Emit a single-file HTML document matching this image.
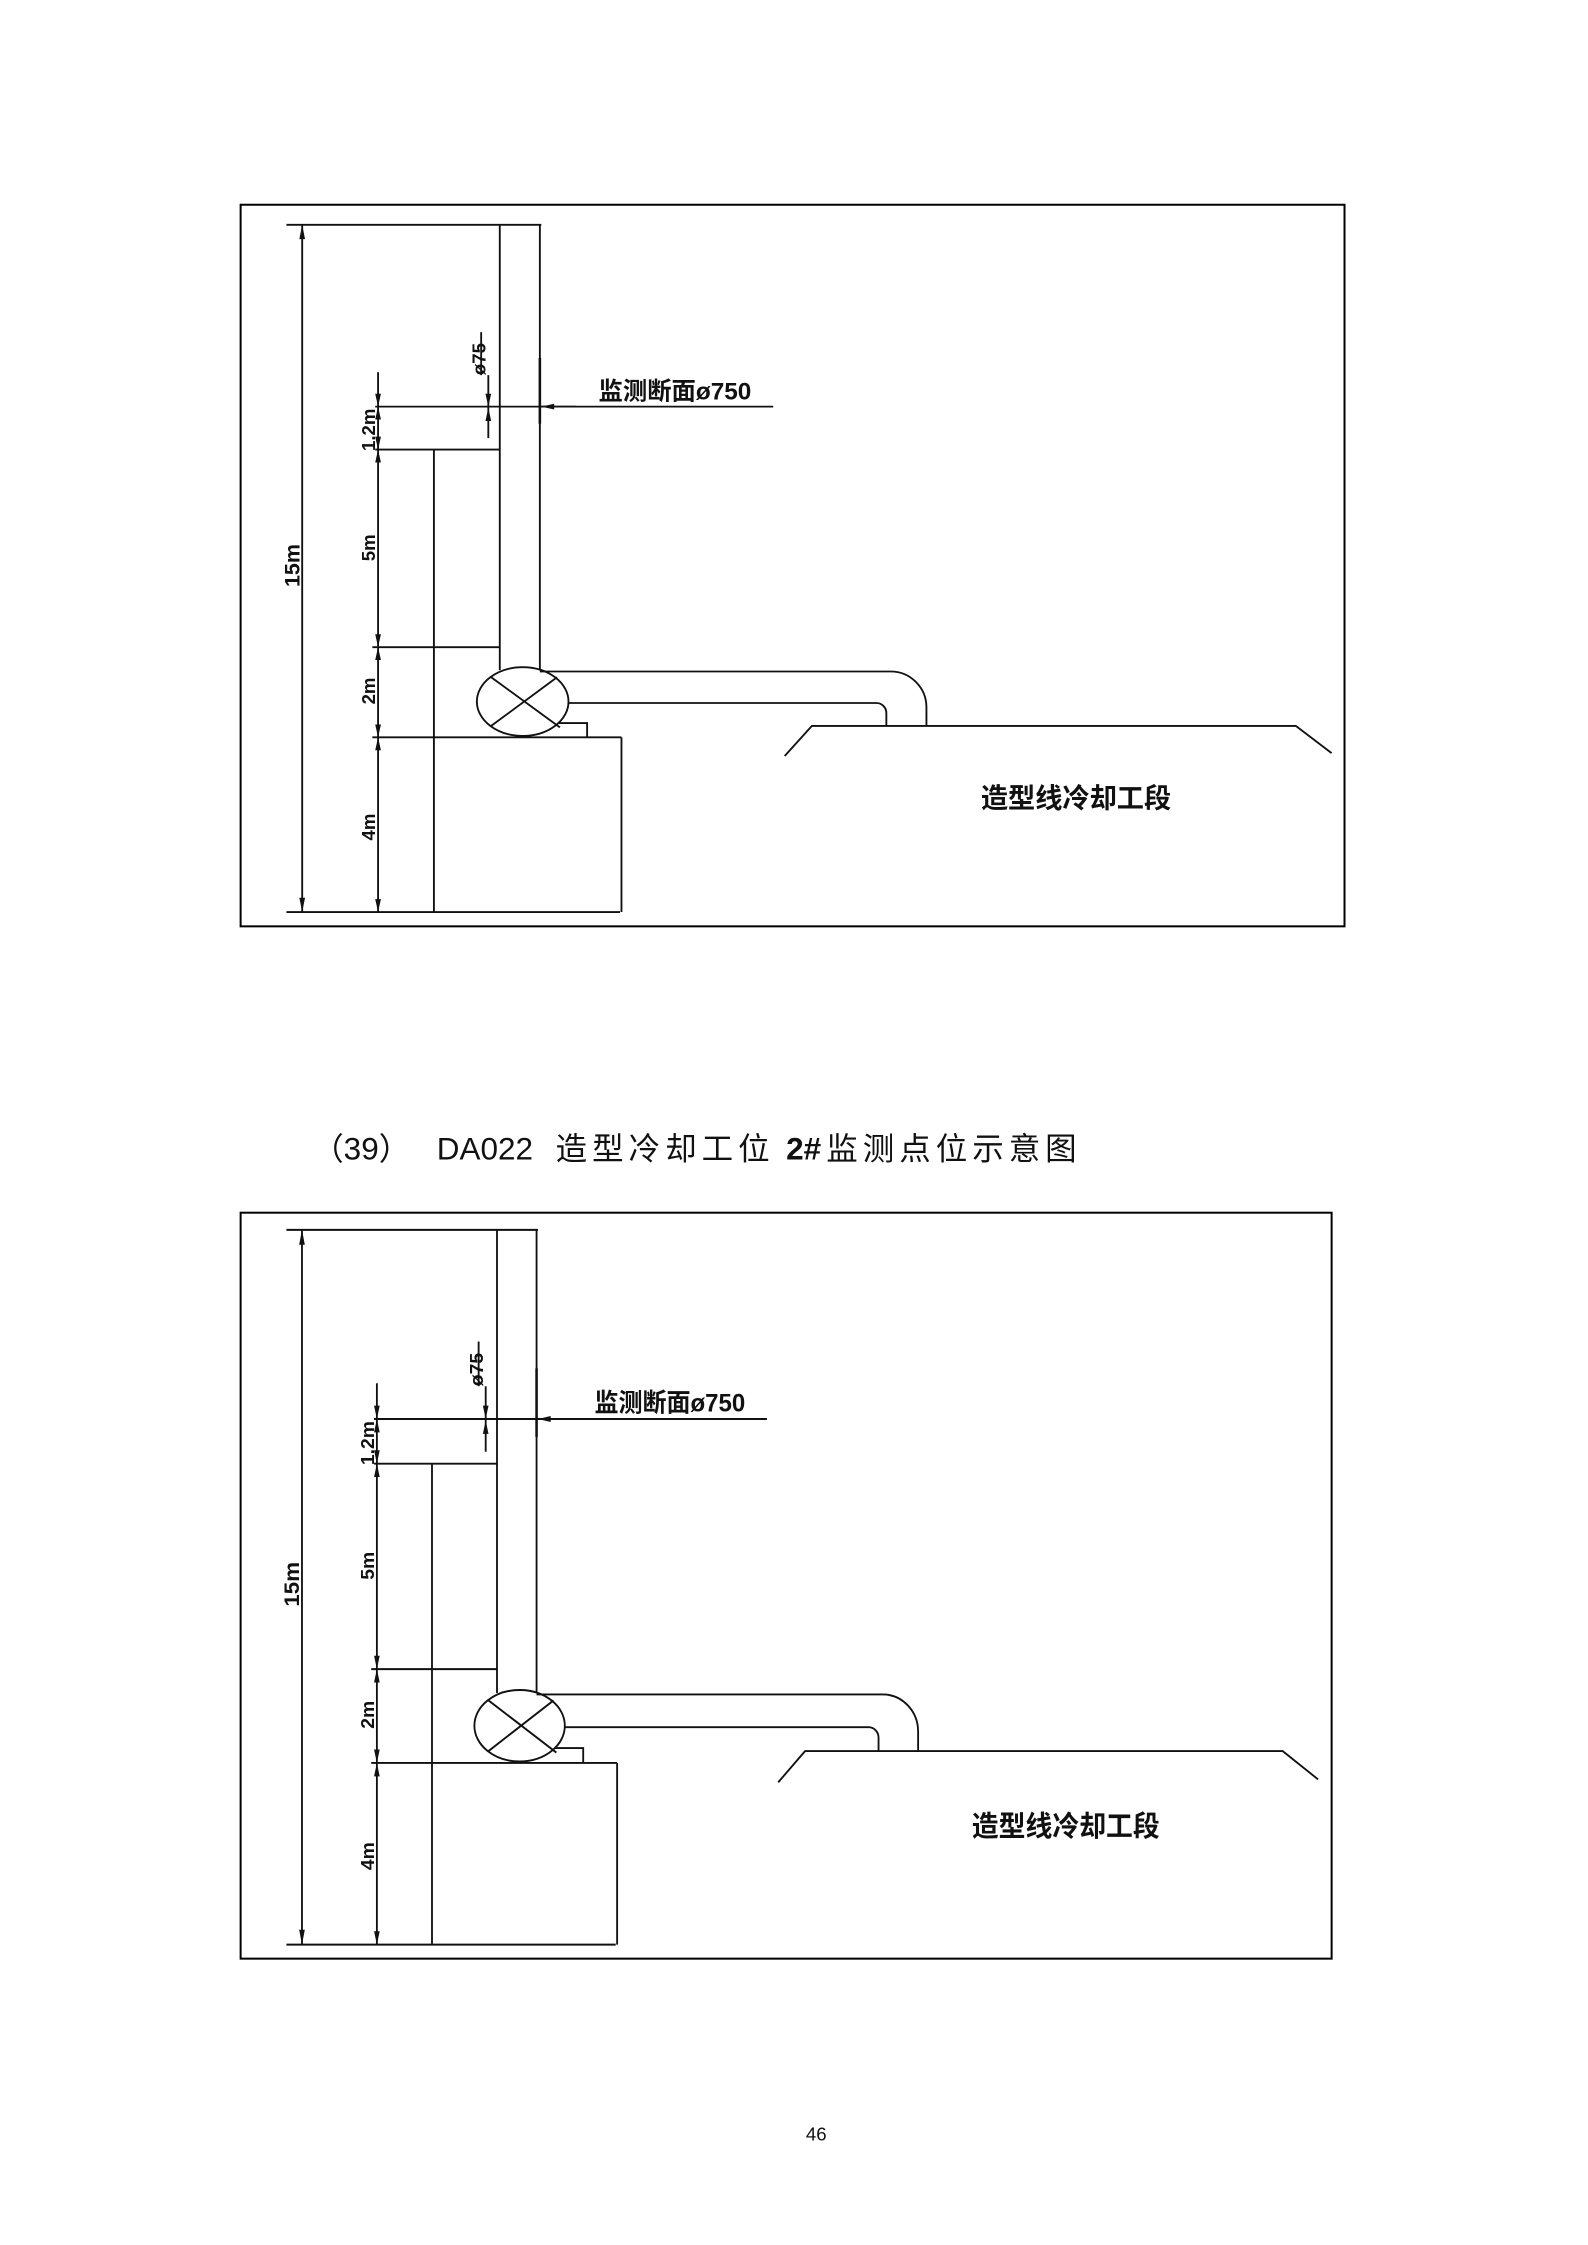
<!DOCTYPE html>
<html><head><meta charset="utf-8">
<style>
html,body{margin:0;padding:0;background:#fff;}
svg{display:block;}
</style></head>
<body>
<svg width="1588" height="2245" viewBox="0 0 1109 1568" xmlns="http://www.w3.org/2000/svg">
<defs>
<g id="dia" fill="none" stroke="#111" stroke-width="1.3">
  <line x1="200" y1="157" x2="378" y2="157"/>
  <line x1="200" y1="637" x2="433" y2="637"/>
  <line x1="211" y1="157" x2="211" y2="637"/>
  <line x1="349" y1="157" x2="349" y2="468"/>
  <line x1="377" y1="157" x2="377" y2="468"/>
  <line x1="377" y1="250" x2="377" y2="296" stroke-width="1.8"/>
  <line x1="264" y1="260" x2="264" y2="637"/>
  <line x1="262" y1="284" x2="540" y2="284"/>
  <line x1="262" y1="314" x2="349" y2="314"/>
  <line x1="260" y1="452" x2="349" y2="452"/>
  <line x1="260" y1="515" x2="434" y2="515"/>
  <line x1="303" y1="314" x2="303" y2="637"/>
  <line x1="434" y1="515" x2="434" y2="637"/>
  <line x1="341" y1="262" x2="341" y2="306"/>
  <line x1="336" y1="232" x2="336" y2="262"/>
  <line x1="377" y1="284" x2="402" y2="284"/>
  <ellipse cx="365" cy="490" rx="32" ry="24"/>
  <line x1="343" y1="473" x2="391" y2="508"/>
  <line x1="343" y1="507" x2="389" y2="473"/>
  <polyline points="390,505 410,505 410,515"/>
  <path d="M377 469 L622 469 A25 25 0 0 1 647 494 L647 507"/>
  <path d="M397 491 L612 491 A7 7 0 0 1 619 498 L619 507"/>
  <polyline points="548,528 567,507 905,507 930,526"/>
  <g fill="#111" stroke="none">
    <polygon points="209,167 213,167 211,157"/>
    <polygon points="209,627 213,627 211,637"/>
    <polygon points="262,275 266,275 264,284"/>
    <polygon points="262,293 266,293 264,284"/>
    <polygon points="262,305 266,305 264,314"/>
    <polygon points="262,323 266,323 264,314"/>
    <polygon points="262,443 266,443 264,452"/>
    <polygon points="262,461 266,461 264,452"/>
    <polygon points="262,506 266,506 264,515"/>
    <polygon points="262,524 266,524 264,515"/>
    <polygon points="262,628 266,628 264,637"/>
    <polygon points="339,275 343,275 341,284"/>
    <polygon points="339,294 343,294 341,285"/>
    <polygon points="387,282 387,286 378,284"/>
  </g>
</g>
<g id="txt" fill="#111" font-weight="bold">
  <text x="418" y="279" font-size="17" font-family="Liberation Sans, Noto Sans CJK SC, sans-serif">监测断面ø750</text>
  <text x="685" y="564" font-size="19" font-family="Liberation Sans, Noto Sans CJK SC, sans-serif">造型线冷却工段</text>
  <text transform="translate(339,262) rotate(-90)" font-size="13" font-family="Liberation Sans, sans-serif">ø75</text>
  <text transform="translate(262,315) rotate(-90)" font-size="13" font-family="Liberation Sans, sans-serif">1.2m</text>
  <text transform="translate(262,392) rotate(-90)" font-size="13" font-family="Liberation Sans, sans-serif">5m</text>
  <text transform="translate(262,492) rotate(-90)" font-size="13" font-family="Liberation Sans, sans-serif">2m</text>
  <text transform="translate(262,587) rotate(-90)" font-size="13" font-family="Liberation Sans, sans-serif">4m</text>
  <text transform="translate(209,410) rotate(-90)" font-size="15" font-family="Liberation Sans, sans-serif">15m</text>
</g>
</defs>

<rect x="168" y="143" width="771" height="504" fill="none" stroke="#000" stroke-width="1.4"/>
<use href="#dia"/>
<use href="#txt"/>

<g fill="#111" font-size="22" font-family="Liberation Sans, Noto Sans CJK SC, sans-serif">
  <text x="218" y="810">（39）</text>
  <text x="305" y="810">DA022</text>
  <text x="388" y="810" letter-spacing="3.5">造型冷却工位</text>
  <text x="549" y="810" font-weight="bold">2#</text>
  <text x="577" y="810" letter-spacing="3.5">监测点位示意图</text>
</g>

<rect x="168" y="847" width="762" height="521" fill="none" stroke="#000" stroke-width="1.4"/>
<g transform="translate(200,859) scale(0.987,1.04) translate(-200,-157)">
  <use href="#dia"/>
  <use href="#txt"/>
</g>

<text x="570" y="1495" font-size="13" fill="#111" text-anchor="middle" font-family="Liberation Sans, sans-serif">46</text>
</svg>
</body></html>
